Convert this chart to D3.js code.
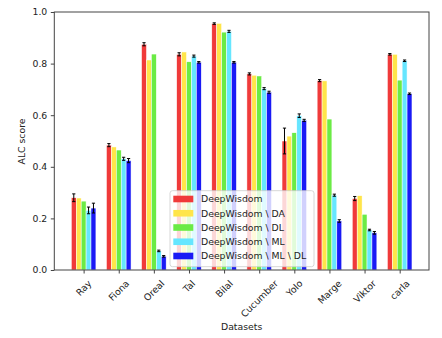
<!DOCTYPE html>
<html><head><meta charset="utf-8">
<script src="https://cdn.jsdelivr.net/npm/d3@7"></script>
<style>
html,body{margin:0;padding:0;background:#fff;}
svg{display:block;font-family:"DejaVu Sans",sans-serif;}
</style></head>
<body><svg id="c" width="442" height="338"></svg>
<script>
const categories = ["Ray","Fiona","Oreal","Tal","Bilal","Cucumber","Yolo","Marge","Viktor","carla"];
const seriesNames = ["DeepWisdom","DeepWisdom \\ DA","DeepWisdom \\ DL","DeepWisdom \\ ML","DeepWisdom \\ ML \\ DL"];
const seriesColors = ["#F03A3A","#FFE54A","#6BEB45","#66E6FF","#1A1AF5"];
const deepWisdom   = [0.280,0.484,0.875,0.836,0.955,0.760,0.500,0.734,0.277,0.836];
const noDA         = [0.279,0.477,0.814,0.845,0.956,0.755,0.519,0.733,0.288,0.836];
const noDL         = [0.267,0.465,0.837,0.807,0.922,0.752,0.532,0.585,0.216,0.736];
const noML         = [0.231,0.431,0.074,0.829,0.925,0.703,0.598,0.290,0.155,0.811];
const noMLDL       = [0.240,0.424,0.053,0.805,0.805,0.689,0.580,0.190,0.144,0.683];
const errDeepWisdom = [0.015,0.006,0.006,0.006,0.003,0.004,0.050,0.004,0.008,0.003];
const errNoML       = [0.013,0.006,0.003,0.004,0.004,0.004,0.007,0.004,0.003,0.003];
const errNoMLDL     = [0.019,0.008,0.003,0.003,0.003,0.004,0.004,0.005,0.005,0.003];
const yTicks = [0.0,0.2,0.4,0.6,0.8,1.0];

const values = [deepWisdom,noDA,noDL,noML,noMLDL];
const errors = [errDeepWisdom,null,null,errNoML,errNoMLDL];

const L=54.3, R=429, T=12, B=270;
const barW = 0.14;
const svg = d3.select("#c");
const x = d3.scaleLinear().domain([-0.835, 9.835]).range([L, R]);
const y = d3.scaleLinear().domain([0, 1]).range([B, T]);
const FS = 9.3;
const txt = "#222";

// bars
values.forEach((vals, j) => {
  svg.append("g").selectAll("rect").data(vals).join("rect")
    .attr("x", (d,i) => x(i - 0.35 + j*barW))
    .attr("width", x(barW) - x(0))
    .attr("y", d => y(d))
    .attr("height", d => y(0) - y(d))
    .attr("fill", seriesColors[j])
    .attr("stroke", "#fff").attr("stroke-width", 0.5);
});
// error bars
values.forEach((vals, j) => {
  const e = errors[j]; if (!e) return;
  const g = svg.append("g").attr("stroke", "#000").attr("stroke-width", 1);
  vals.forEach((v, i) => {
    const cx = x(i - 0.35 + j*barW + barW/2);
    const y1 = y(v + e[i]), y2 = y(v - e[i]);
    g.append("line").attr("x1", cx).attr("x2", cx).attr("y1", y1).attr("y2", y2);
    g.append("line").attr("x1", cx-1.6).attr("x2", cx+1.6).attr("y1", y1).attr("y2", y1);
    g.append("line").attr("x1", cx-1.6).attr("x2", cx+1.6).attr("y1", y2).attr("y2", y2);
  });
});

// axes
const yAxis = d3.axisLeft(y).tickValues(yTicks).tickFormat(d3.format(".1f")).tickSize(3.5).tickPadding(3.5);
const gy = svg.append("g").attr("transform", `translate(${L},0)`).call(yAxis);
gy.select(".domain").remove();
gy.selectAll("line").attr("stroke", "#444");
gy.selectAll("text").attr("font-size", FS).attr("fill", txt).attr("font-family", "DejaVu Sans");

const xAxis = d3.axisBottom(x).tickValues(d3.range(categories.length)).tickFormat("").tickSize(3.5);
const gx = svg.append("g").attr("transform", `translate(0,${B})`).call(xAxis);
gx.select(".domain").remove();
gx.selectAll("line").attr("stroke", "#444");

// rotated tick labels, bbox centered on tick
categories.forEach((c, i) => {
  const t = svg.append("text").text(c).attr("font-size", FS).attr("fill", txt)
    .attr("text-anchor", "middle").attr("dominant-baseline", "central");
  const len = t.node().getComputedTextLength();
  const h = (len + FS*0.95) * Math.SQRT1_2;
  t.attr("transform", `translate(${x(i)},${B + 8.5 + h/2}) rotate(-45)`);
});

// frame
svg.append("rect").attr("x", L).attr("y", T).attr("width", R-L).attr("height", B-T)
  .attr("fill", "none").attr("stroke", "#444").attr("stroke-width", 1);

// axis titles
svg.append("text").text("Datasets").attr("x", (L+R)/2).attr("y", 330)
  .attr("text-anchor", "middle").attr("font-size", FS).attr("fill", txt);
svg.append("text").text("ALC score").attr("transform", `translate(25,141.5) rotate(-90)`)
  .attr("text-anchor", "middle").attr("font-size", FS).attr("fill", txt);

// legend
const lg = svg.append("g").attr("transform", "translate(170,190.7)");
lg.append("rect").attr("width", 144).attr("height", 76).attr("rx", 2.5)
  .attr("fill", "#fff").attr("fill-opacity", 0.8).attr("stroke", "#ccc").attr("stroke-width", 0.8);
seriesNames.forEach((n, j) => {
  const cy = 8.3 + j*14.25;
  lg.append("rect").attr("x", 3.3).attr("y", cy - 3.3).attr("width", 20).attr("height", 6.6).attr("fill", seriesColors[j]);
  lg.append("text").text(n).attr("x", 31).attr("y", cy).attr("dominant-baseline", "central")
    .attr("font-size", FS).attr("fill", txt);
});
</script></body></html>
